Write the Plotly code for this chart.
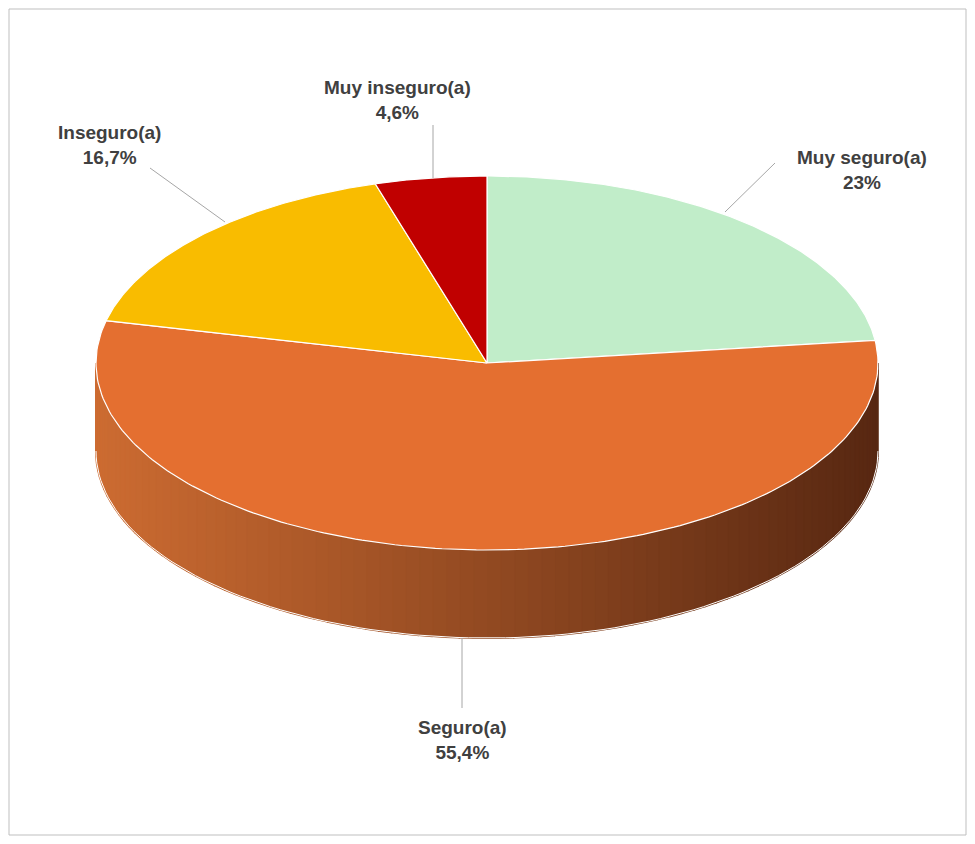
import numpy as np
import plotly.graph_objects as go

labels = ["Muy seguro(a)", "Seguro(a)", "Inseguro(a)", "Muy inseguro(a)"]
values = [23.0, 55.4, 16.7, 4.6]
pct_text = ["23%", "55,4%", "16,7%", "4,6%"]
colors = ["#c1edc9", "#e46f30", "#f9bc00", "#c00000"]

# pie geometry in page pixels
cx, cy, rx, ry, depth = 487, 363, 391, 187, 88


def pt(theta_deg, dy=0):
    t = np.radians(theta_deg)
    return cx + rx * np.sin(t), cy - ry * np.cos(t) + dy


fig = go.Figure()

# side wall (front half), shaded left to right
n = 90
edges = np.linspace(90, 270, n + 1)
c0, c1 = np.array([205, 108, 50]), np.array([88, 40, 18])
for a, b in zip(edges[:-1], edges[1:]):
    th = np.linspace(a, b, 4)
    xs, ys = pt(th)
    xb, yb = pt(th[::-1], depth)
    xm = (pt(a)[0] + pt(b)[0]) / 2
    f = (xm - (cx - rx)) / (2 * rx)
    r, g, bl = (c1 * f + c0 * (1 - f)).astype(int)
    col = f"rgb({r},{g},{bl})"
    fig.add_trace(go.Scatter(x=list(xs) + list(xb), y=list(ys) + list(yb), fill="toself",
                             fillcolor=col, line=dict(color=col, width=2), mode="lines",
                             hoverinfo="skip", showlegend=False))
# outline of wall
xl, yl = pt(np.linspace(90, 270, 100), depth)
fig.add_trace(go.Scatter(x=xl, y=yl, mode="lines", line=dict(color="white", width=1),
                         hoverinfo="skip", showlegend=False))

# top slices
start = 0.0
total = sum(values)
for lab, v, col in zip(labels, values, colors):
    sweep = 360 * v / total
    th = np.linspace(start, start + sweep, 200)
    xs, ys = pt(th)
    fig.add_trace(go.Scatter(x=[cx] + list(xs) + [cx], y=[cy] + list(ys) + [cy], fill="toself",
                             fillcolor=col, line=dict(color="white", width=1.2), mode="lines",
                             name=lab, showlegend=False))
    start += sweep

# labels with leader lines
lab_pos = [(862, 170), (462, 740), (109, 145), (397, 100)]
leaders = [((725, 212), (775, 163)), ((462, 638), (462, 708)),
           ((225, 222), (150, 168)), ((433, 178), (433, 125))]
for lab, p, (x, y), (a, b) in zip(labels, pct_text, lab_pos, leaders):
    fig.add_trace(go.Scatter(x=[a[0], b[0]], y=[a[1], b[1]], mode="lines",
                             line=dict(color="#a6a6a6", width=1), hoverinfo="skip", showlegend=False))
    fig.add_annotation(x=x, y=y, text=f"<b>{lab}<br>{p}</b>", showarrow=False,
                       font=dict(family="Liberation Sans, Arial", size=19, color="#404040"))

# page body adds an 8px margin, so map data pixels onto screen pixels
fig.update_layout(
    width=959, height=828, margin=dict(l=0, r=0, t=0, b=0),
    paper_bgcolor="white", plot_bgcolor="white",
    xaxis=dict(range=[8, 967], visible=False, fixedrange=True),
    yaxis=dict(range=[836, 8], visible=False, fixedrange=True),
    shapes=[dict(type="rect", xref="x", yref="y", x0=9, y0=9, x1=966, y1=835,
                 line=dict(color="#bfbfbf", width=1))],
)
fig.write_html("out.html")
